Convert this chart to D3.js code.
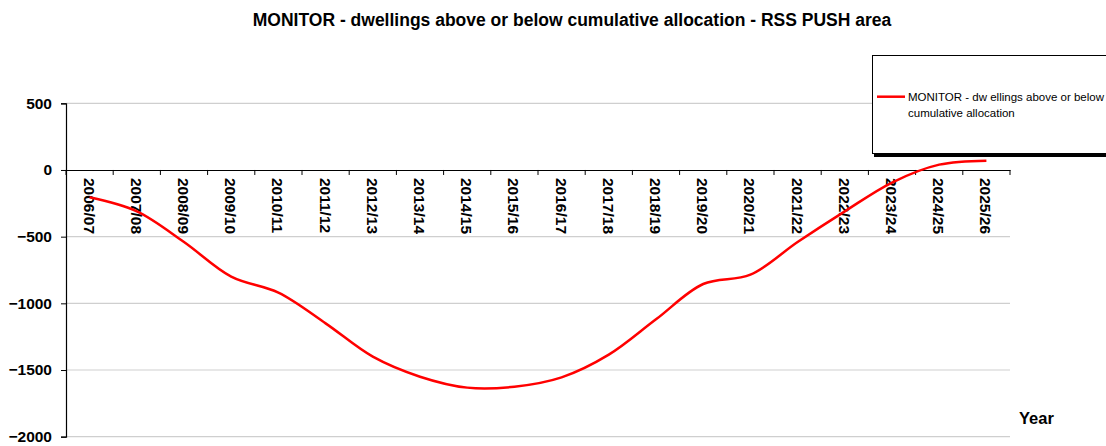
<!DOCTYPE html>
<html>
<head>
<meta charset="utf-8">
<script src="https://cdn.jsdelivr.net/npm/d3@7"></script>
<style>
  html, body { margin: 0; padding: 0; background: #fff; }
  svg { display: block; font-family: "Liberation Sans", Arial, sans-serif; }
</style>
</head>
<body>
<svg id="chart" width="1106" height="446"></svg>
<script>
// Financial years monitored
const years = ["2006/07","2007/08","2008/09","2009/10","2010/11","2011/12","2012/13",
  "2013/14","2014/15","2015/16","2016/17","2017/18","2018/19","2019/20","2020/21",
  "2021/22","2022/23","2023/24","2024/25","2025/26"];

// Dwellings above (+) or below (-) the cumulative allocation
const monitorValues = [-205, -310, -540, -800, -920, -1150, -1400, -1550, -1632, -1625,
  -1555, -1385, -1120, -855, -785, -540, -310, -94, 40, 70];

const yTicks = [500, 0, -500, -1000, -1500, -2000];

const titleText = "MONITOR - dwellings above or below cumulative allocation - RSS PUSH area";
const legendLines = ["MONITOR - dw ellings above or below", "cumulative allocation"];
const xAxisTitle = "Year";

const svg = d3.select("#chart");
const plot = { left: 66, right: 1010, top: 103.3, bottom: 436.7 };

const x = d3.scaleBand().domain(years).range([plot.left, plot.right]);
const y = d3.scaleLinear().domain([-2000, 500]).range([plot.bottom, plot.top]);
const cx = d => x(d) + x.bandwidth() / 2;

// Title
svg.append("text")
  .attr("x", 572).attr("y", 25.5)
  .attr("text-anchor", "middle")
  .attr("font-size", 17.5).attr("font-weight", "bold")
  .text(titleText);

// Horizontal gridlines
svg.append("g")
  .selectAll("line")
  .data(yTicks.filter(v => v !== 0))
  .join("line")
  .attr("x1", plot.left).attr("x2", plot.right)
  .attr("y1", d => y(d)).attr("y2", d => y(d))
  .attr("stroke", "#cfcfcf").attr("stroke-width", 1.2);

// Y axis
const yAxis = svg.append("g")
  .attr("transform", `translate(${plot.left},0)`)
  .call(d3.axisLeft(y).tickValues(yTicks).tickSize(5).tickPadding(9).tickFormat(d3.format("d")));
yAxis.select(".domain").attr("stroke", "#000").attr("stroke-width", 1.2);
yAxis.selectAll(".tick line").attr("stroke", "#000");
yAxis.selectAll(".tick text")
  .attr("font-size", 15.5).attr("font-weight", "bold")
  .attr("font-family", "Liberation Sans, Arial, sans-serif")
  .attr("fill", "#000");

// X axis along zero, with rotated year labels
const xAxis = svg.append("g")
  .attr("transform", `translate(0,${y(0)})`)
  .call(d3.axisBottom(x).tickSize(0).tickFormat(""));
xAxis.select(".domain").attr("stroke", "#000").attr("stroke-width", 1.2);

// Tick marks on category boundaries
svg.append("g")
  .selectAll("line")
  .data(d3.range(years.length + 1))
  .join("line")
  .attr("x1", i => plot.left + i * x.step())
  .attr("x2", i => plot.left + i * x.step())
  .attr("y1", y(0)).attr("y2", y(0) + 5)
  .attr("stroke", "#000").attr("stroke-width", 1);

svg.append("g")
  .selectAll("text")
  .data(years)
  .join("text")
  .attr("transform", d => `translate(${cx(d) - 6},${y(0) + 8}) rotate(90)`)
  .attr("font-size", 15.5).attr("font-weight", "bold")
  .attr("fill", "#000")
  .text(d => d);

// Axis title
svg.append("text")
  .attr("x", 1019).attr("y", 424)
  .attr("font-size", 16.5).attr("font-weight", "bold")
  .text(xAxisTitle);

// Smoothed series line
const line = d3.line()
  .x((d, i) => cx(years[i]))
  .y(d => y(d))
  .curve(d3.curveCatmullRom.alpha(0.5));

svg.append("path")
  .datum(monitorValues)
  .attr("d", line)
  .attr("fill", "none")
  .attr("stroke", "#ff0000")
  .attr("stroke-width", 2.5)
  .attr("stroke-linejoin", "round");

// Legend box with shadow
const legend = svg.append("g");
legend.append("rect")
  .attr("x", 874).attr("y", 57).attr("width", 240).attr("height", 100)
  .attr("fill", "#000");
legend.append("rect")
  .attr("x", 872.5).attr("y", 55.5).attr("width", 240).attr("height", 98)
  .attr("fill", "#fff").attr("stroke", "#000").attr("stroke-width", 1);
legend.append("line")
  .attr("x1", 877).attr("x2", 905).attr("y1", 96.7).attr("y2", 96.7)
  .attr("stroke", "#ff0000").attr("stroke-width", 2.5);
legend.selectAll("text.lg")
  .data(legendLines)
  .join("text")
  .attr("class", "lg")
  .attr("x", 908).attr("y", (d, i) => 101 + i * 16)
  .attr("font-size", 11.5)
  .attr("fill", "#000")
  .text(d => d);
</script>
</body>
</html>
